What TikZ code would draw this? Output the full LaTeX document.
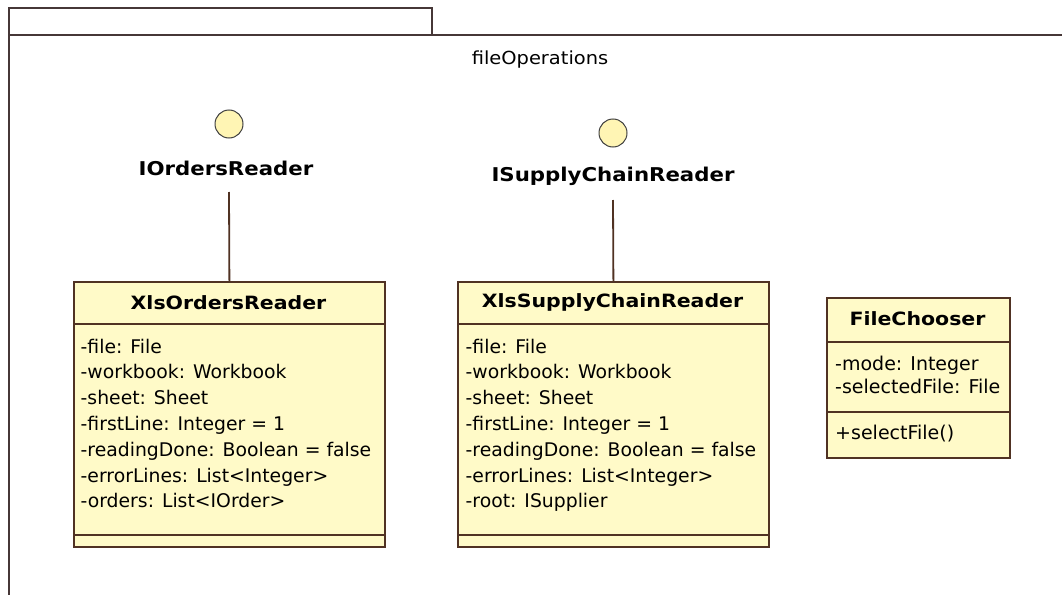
\documentclass[tikz,border=0pt]{standalone}
\usepackage{fontspec}
\setmainfont{DejaVu Sans}
\newfontfamily\widefont{DejaVu Sans}[FakeStretch=1.12]
\newfontfamily\pkgfont{DejaVu Sans}[FakeStretch=1.08]
\definecolor{classfill}{RGB}{255,250,200}
\definecolor{classline}{RGB}{80,50,35}
\definecolor{pkgline}{RGB}{70,55,55}
\definecolor{ifill}{RGB}{255,245,180}
\tikzset{
  pkg/.style={draw=pkgline, line width=1.8pt},
  classbox/.style={draw=classline, fill=classfill, line width=1.8pt, rectangle, inner sep=0pt, anchor=north west},
  sepline/.style={draw=classline, line width=1.8pt},
  ctitle/.style={font=\widefont\fontsize{18.3}{20}\selectfont\bfseries, inner sep=0pt},
  attrs/.style={font=\fontsize{18.8}{25.8}\selectfont, align=left, anchor=base west, inner sep=0pt},
  fcattrs/.style={font=\fontsize{19}{23}\selectfont, align=left, anchor=base west, inner sep=0pt},
  iface/.style={circle, draw=black!75, fill=ifill, line width=1pt, minimum size=28pt, inner sep=0pt},
  ilabel/.style={font=\widefont\fontsize{19}{21}\selectfont\bfseries, inner sep=0pt},
  link/.style={draw=classline, line width=1.8pt}
}
\begin{document}
\begin{tikzpicture}[x=1pt,y=-1pt]
\useasboundingbox (0,0) rectangle (1062,594);
\fill[white] (0,0) rectangle (1062,594);
% package frame
\draw[pkg] (9,35) -- (9,8) -- (432,8) -- (432,35);
\draw[pkg] (9,596) -- (9,35) -- (1064,35);
\node[font=\pkgfont\fontsize{18}{20}\selectfont, inner sep=0pt] (pkgname) at (540,60) {fileOperations};

% interfaces
\node[iface] (i1) at (229,124) {};
\node[ilabel] (l1) at (226,168) {IOrdersReader};
\coordinate (l1b) at (229,192);
\node[iface] (i2) at (613,133) {};
\node[ilabel] (l2) at (613,176) {ISupplyChainReader};
\coordinate (l2b) at (613,200);

% XlsOrdersReader
\node[classbox, minimum width=311pt, minimum height=265pt] (c1) at (73,281) {};
\draw[sepline] (73,324) -- (384,324);
\draw[sepline] (73,535) -- (384,535);
\node[ctitle] (t1) at (228.5,302.5) {XlsOrdersReader};
\node[attrs] (a1) at (80.5,507.8) {-file: File\\-workbook: Workbook\\-sheet: Sheet\\-firstLine: Integer = 1\\-readingDone: Boolean = false\\-errorLines: List<Integer>\\-orders: List<IOrder>};

% XlsSupplyChainReader
\node[classbox, minimum width=311pt, minimum height=265pt] (c2) at (457,281) {};
\draw[sepline] (457,324) -- (768,324);
\draw[sepline] (457,535) -- (768,535);
\node[ctitle] (t2) at (612.5,302.5) {XlsSupplyChainReader};
\node[attrs] (a2) at (465.5,507.8) {-file: File\\-workbook: Workbook\\-sheet: Sheet\\-firstLine: Integer = 1\\-readingDone: Boolean = false\\-errorLines: List<Integer>\\-root: ISupplier};

% FileChooser
\node[classbox, minimum width=183pt, minimum height=160pt] (c3) at (826,297) {};
\draw[sepline] (826,342) -- (1009,342);
\draw[sepline] (826,412) -- (1009,412);
\node[ctitle] (t3) at (917.5,319) {FileChooser};
\node[fcattrs] (a3) at (835,393) {-mode: Integer\\-selectedFile: File};
\node[fcattrs] (m3) at (835,439) {+selectFile()};

% connectors
\draw[link] (l1b) -- (c1.north);
\draw[link] (l2b) -- (c2.north);
\end{tikzpicture}
\end{document}
